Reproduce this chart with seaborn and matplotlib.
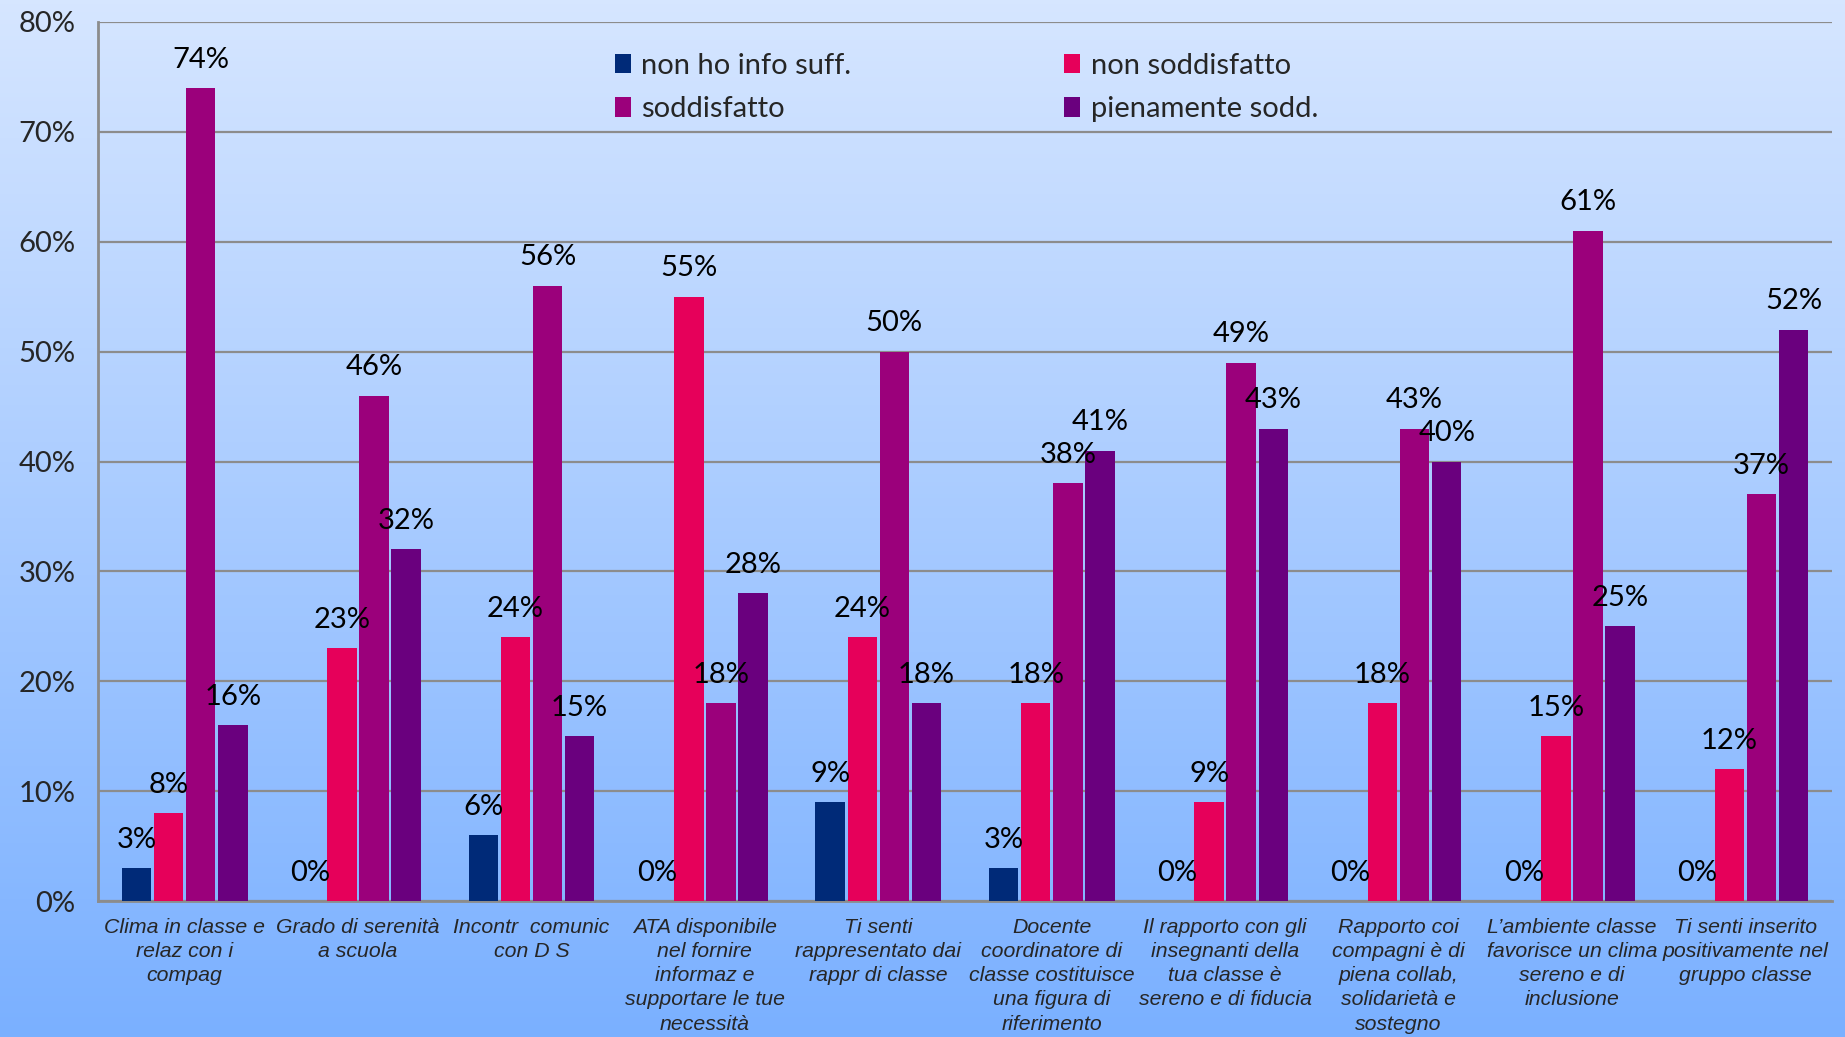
import numpy as np
import pandas as pd
import matplotlib
matplotlib.use("Agg")
import matplotlib.pyplot as plt
import seaborn as sns
from matplotlib.ticker import FuncFormatter

# ---------------------------------------------------------
# 1. 데이터
# ---------------------------------------------------------
categorie = [
    "Clima in classe e\nrelaz con i\ncompag",
    "Grado di serenità\na scuola",
    "Incontr  comunic\ncon D S",
    "ATA disponibile\nnel fornire\ninformaz e\nsupportare le tue\nnecessità",
    "Ti senti\nrappresentato dai\nrappr di classe",
    "Docente\ncoordinatore di\nclasse costituisce\nuna figura di\nriferimento",
    "Il rapporto con gli\ninsegnanti della\ntua classe è\nsereno e di fiducia",
    "Rapporto coi\ncompagni è di\npiena collab,\nsolidarietà e\nsostegno",
    "L’ambiente classe\nfavorisce un clima\nsereno e di\ninclusione",
    "Ti senti inserito\npositivamente nel\ngruppo classe",
]
serie = ["non ho info suff.", "non soddisfatto", "soddisfatto", "pienamente sodd."]

non_ho_info = [3, 0, 6, 0, 9, 3, 0, 0, 0, 0]
non_soddisfatto = [8, 23, 24, 55, 24, 18, 9, 18, 15, 12]
soddisfatto = [74, 46, 56, 18, 50, 38, 49, 43, 61, 37]
pienamente = [16, 32, 15, 28, 18, 41, 43, 40, 25, 52]

colori = ["#002A78", "#E6005A", "#9B007B", "#6A007E"]

rows = []
for s, vals in zip(serie, [non_ho_info, non_soddisfatto, soddisfatto, pienamente]):
    for c, v in zip(categorie, vals):
        rows.append({"cat": c, "serie": s, "val": v})
df = pd.DataFrame(rows)

# ---------------------------------------------------------
# 2. 그림 + 배경 그라데이션
# ---------------------------------------------------------
sns.set_style("white")
plt.rcParams["font.family"] = ["Lato", "DejaVu Sans"]

fig = plt.figure(figsize=(18.45, 10.37), dpi=100)
bg = fig.add_axes([0, 0, 1, 1], zorder=0)
top_c = np.array([214, 230, 255]) / 255
bot_c = np.array([122, 176, 255]) / 255
t = np.linspace(0, 1, 256)[:, None]
grad = (top_c * (1 - t) + bot_c * t)[:, None, :]
bg.imshow(grad, aspect="auto", extent=[0, 1, 0, 1])
bg.axis("off")

ax = fig.add_axes([0.0531, 0.1311, 0.9399, 0.8477], zorder=1)
ax.patch.set_alpha(0)

# ---------------------------------------------------------
# 3. 막대그래프
# ---------------------------------------------------------
sns.barplot(data=df, x="cat", y="val", hue="serie", palette=colori,
            width=0.74, gap=0.08, ax=ax, zorder=3, saturation=1, linewidth=0)

for cont in ax.containers:
    ax.bar_label(cont, fmt="{:.0f}%", padding=11, fontsize=21, color="black")

ax.set_ylim(0, 80)
ax.set_xlim(-0.5, 9.5)
ax.set_yticks(range(0, 81, 10))
ax.yaxis.set_major_formatter(FuncFormatter(lambda v, p: f"{v:.0f}%"))
ax.grid(axis="y", color="#8C8C8C", linewidth=1.6, zorder=0)
ax.set_axisbelow(True)
ax.set_xlabel("")
ax.set_ylabel("")

for s in ["top", "right"]:
    ax.spines[s].set_visible(False)
for s in ["left", "bottom"]:
    ax.spines[s].set_color("#8C8C8C")
    ax.spines[s].set_linewidth(2)

ax.tick_params(axis="y", labelsize=21, length=10, width=1.6, color="#8C8C8C", pad=6)
ax.tick_params(axis="x", which="major", length=0, pad=12)
ax.set_xticks(np.arange(-0.5, 10, 1), minor=True)
ax.tick_params(axis="x", which="minor", length=7, width=1.6, color="#8C8C8C")
for lab in ax.get_xticklabels():
    lab.set_fontfamily(["Liberation Sans Narrow", "Liberation Sans", "DejaVu Sans"])
    lab.set_fontstyle("italic")
    lab.set_fontsize(15.3)
    lab.set_linespacing(1.35)
    lab.set_verticalalignment("top")

# 범례 (행 순서: navy, pink / magenta, purple)
h, l = ax.get_legend_handles_labels()
order = [0, 2, 1, 3]
ax.legend([h[i] for i in order], [l[i] for i in order], ncol=2,
          loc="upper left", bbox_to_anchor=(0.283, 0.995), frameon=False,
          fontsize=21, handlelength=0.55, handleheight=0.65, handletextpad=0.35,
          columnspacing=7.3, labelspacing=0.6)

fig.savefig("out.png", dpi=100)
